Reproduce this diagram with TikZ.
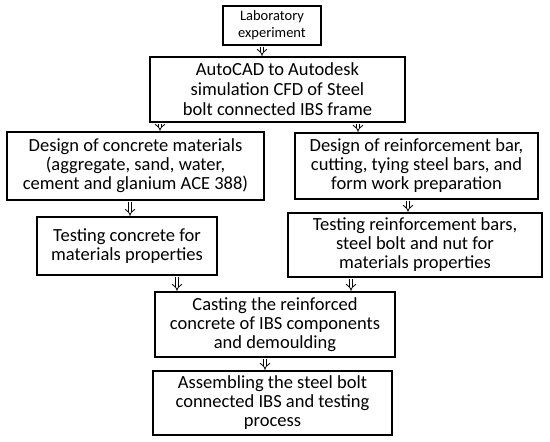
\documentclass[tikz,border=0pt]{standalone}
\usepackage{fontspec}
\setmainfont{Carlito}
\usetikzlibrary{arrows.meta}

\begin{document}
\begin{tikzpicture}[x=1pt, y=-1pt,
      stage/.style={rectangle, draw=black, line width=1.3pt, fill=white,
                    font=\fontsize{18.5}{19}\selectfont, align=center,
                    inner sep=1pt},
      dbl/.style={double, double distance=2.8pt, line width=0.8pt,
                  -{Implies[length=5pt]}, shorten <=1pt, shorten >=0.5pt}
    ]
    \useasboundingbox (0,0) rectangle (550,442);

    % Top: experiment and simulation
    \node[stage, minimum width=98pt, minimum height=39pt,
          font=\fontsize{14.5}{17}\selectfont] (lab) at (272,25.5)
          {Laboratory\\experiment};
    \node[stage, minimum width=255pt, minimum height=65pt,
          font=\fontsize{18.5}{20}\selectfont] (cfd) at (277.5,89.5)
          {AutoCAD to Autodesk\\simulation CFD of Steel\\bolt connected IBS frame};

    % Left branch: concrete
    \node[stage, minimum width=257pt, minimum height=68pt] (conc) at (135.5,166)
          {Design of concrete materials\\(aggregate, sand, water,\\cement and glanium ACE 388)};
    \node[stage, minimum width=180pt, minimum height=58pt] (testc) at (127,246)
          {Testing concrete for\\materials properties};

    % Right branch: reinforcement
    \node[stage, minimum width=243pt, minimum height=66pt] (rebar) at (416.5,166)
          {Design of reinforcement bar,\\cutting, tying steel bars, and\\form work preparation};
    \node[stage, minimum width=254pt, minimum height=64pt] (testr) at (415,245)
          {Testing reinforcement bars,\\steel bolt and nut for\\materials properties};

    % Bottom: casting and assembly
    \node[stage, minimum width=240pt, minimum height=65pt] (cast) at (275,324.5)
          {Casting the reinforced\\concrete of IBS components\\and demoulding};
    \node[stage, minimum width=239pt, minimum height=64pt] (assem) at (272.5,403)
          {Assembling the steel bolt\\connected IBS and testing\\process};

    % Arrows
    \draw[dbl] (262,0 |- lab.south) -- (262,0 |- cfd.north);
    \draw[dbl] (160,0 |- cfd.south) -- (160,0 |- conc.north);
    \draw[dbl] (358,0 |- cfd.south) -- (358,0 |- rebar.north);
    \draw[dbl] (130,0 |- conc.south) -- (130,0 |- testc.north);
    \draw[dbl] (408,0 |- rebar.south) -- (408,0 |- testr.north);
    \draw[dbl] (177,0 |- testc.south) -- (177,0 |- cast.north);
    \draw[dbl] (351,0 |- testr.south) -- (351,0 |- cast.north);
    \draw[dbl] (265,0 |- cast.south) -- (265,0 |- assem.north);
  \end{tikzpicture}
\end{document}
